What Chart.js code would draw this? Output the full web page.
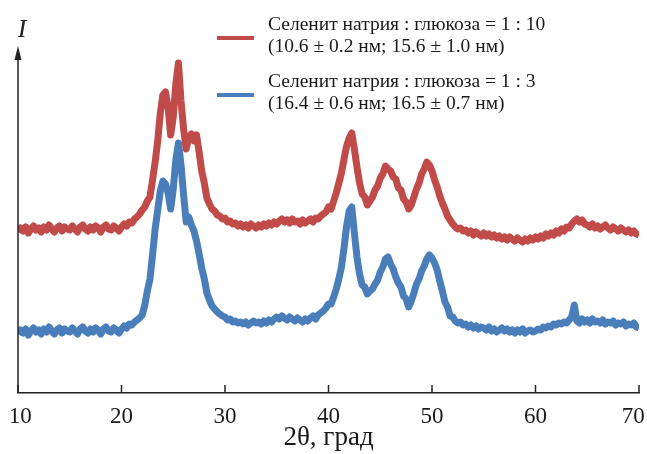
<!DOCTYPE html>
<html lang="ru">

<head>
    <meta charset="UTF-8">
    <title>XRD</title>
    <script src="https://cdn.jsdelivr.net/npm/chart.js"></script>
    <style>
        html, body { margin: 0; padding: 0; background: #fff; overflow: hidden; }
        #canvas { display: block; }
    </style>
</head>

<body>
    <canvas id="canvas" width="647" height="454"></canvas>

    <script>
        // 2θ grid: 10..70 deg, step 0.25
        const angleStart = 10
        const angleStep = 0.25
        const xTicks = [10, 20, 30, 40, 50, 60, 70]

        const redLabel = ['Селенит натрия : глюкоза = 1 : 10', '(10.6 ± 0.2 нм; 15.6 ± 1.0 нм)']
        const blueLabel = ['Селенит натрия : глюкоза = 1 : 3', '(16.4 ± 0.6 нм; 16.5 ± 0.7 нм)']

        // intensity, arbitrary units (curves shifted as in the picture)
        const redIntensity = [
            161, 165, 162, 166, 160, 164, 167, 163, 165, 161, 166, 163, 168, 164, 161, 165, 167, 162, 166, 164,
            163, 167, 164, 161, 166, 168, 164, 162, 166, 163, 167, 165, 161, 166, 168, 164, 163, 167, 165, 162,
            166, 169, 167, 171, 170, 174, 176, 179, 183, 186, 192, 196, 213, 231, 252, 280, 298, 301, 286, 258,
            276, 309, 330, 292, 264, 244, 255, 259, 252, 258, 241, 222, 210, 195, 189, 184, 182, 178, 177, 174,
            175, 171, 172, 169, 170, 167, 169, 166, 168, 165, 169, 167, 165, 168, 166, 169, 167, 170, 168, 171,
            169, 172, 174, 171, 173, 170, 174, 171, 172, 169, 173, 170, 172, 174, 171, 175, 174, 177, 179, 181,
            186, 184, 192, 200, 210, 220, 234, 247, 255, 260, 244, 226, 210, 199, 196, 188, 192, 196, 203, 207,
            215, 219, 227, 224, 222, 216, 214, 205, 203, 194, 191, 184, 188, 196, 204, 210, 219, 224, 231, 228,
            222, 213, 206, 197, 190, 184, 177, 173, 169, 166, 164, 165, 162, 163, 160, 162, 158, 161, 159, 157,
            160, 157, 159, 156, 158, 155, 157, 154, 156, 153, 156, 154, 152, 155, 153, 151, 154, 152, 155, 153,
            156, 154, 157, 155, 159, 157, 160, 158, 162, 160, 164, 162, 166, 165, 169, 172, 174, 171, 173, 169,
            168, 166, 169, 165, 167, 164, 166, 168, 165, 163, 166, 164, 162, 165, 163, 161, 163, 160, 162, 159,
            158
        ]

        const blueIntensity = [
            59, 63, 60, 64, 58, 62, 65, 61, 63, 59, 64, 61, 66, 62, 59, 63, 65, 60, 64, 62,
            61, 65, 62, 59, 64, 66, 62, 60, 64, 61, 65, 63, 59, 64, 66, 62, 61, 65, 63, 60,
            64, 67, 65, 69, 68, 71, 73, 75, 78, 88, 102, 114, 138, 164, 183, 202, 212, 209, 200, 184,
            204, 233, 250, 228, 198, 171, 176, 168, 162, 152, 139, 125, 114, 100, 93, 87, 84, 81, 79, 77,
            76, 73, 74, 71, 72, 70, 71, 69, 71, 68, 70, 72, 70, 71, 69, 72, 70, 73, 71, 74,
            76, 74, 77, 75, 73, 76, 74, 72, 75, 73, 71, 74, 72, 75, 77, 74, 78, 80, 82, 85,
            89, 89, 96, 104, 114, 126, 145, 167, 182, 186, 160, 136, 119, 108, 106, 99, 102, 104, 109, 113,
            121, 126, 134, 136, 129, 124, 116, 110, 106, 97, 94, 86, 92, 100, 109, 114, 122, 127, 134, 138,
            135, 130, 123, 112, 102, 91, 86, 77, 76, 72, 70, 71, 68, 69, 66, 68, 65, 67, 64, 66,
            65, 63, 66, 62, 64, 61, 63, 65, 62, 64, 61, 63, 60, 63, 61, 64, 60, 62, 63, 61,
            62, 64, 63, 66, 65, 67, 66, 69, 68, 70, 69, 71, 70, 73, 76, 88, 72, 70, 74, 71,
            73, 70, 74, 71, 72, 70, 73, 69, 71, 70, 72, 68, 70, 69, 71, 67, 69, 68, 70, 66,
            65
        ]

        const redColor = '#c04b48'
        const blueColor = '#4a7ebb'
        const serif = '"Liberation Serif", "Times New Roman", serif'

        function puntos(valores) {
            return valores.map((v, i) => ({ x: angleStart + i * angleStep, y: v }))
        }

        const decoracion = {
            id: 'decoracion',
            afterDraw(chart) {
                const c = chart.ctx
                const area = chart.chartArea
                const xs = chart.scales.x
                c.save()
                c.strokeStyle = '#222'
                c.fillStyle = '#222'
                c.lineWidth = 1.5

                // inner tick marks
                xTicks.forEach(t => {
                    const px = xs.getPixelForValue(t)
                    c.beginPath()
                    c.moveTo(px, area.bottom)
                    c.lineTo(px, area.bottom - 8)
                    c.stroke()
                })

                // y axis with arrow
                c.beginPath()
                c.moveTo(area.left, area.bottom)
                c.lineTo(area.left, area.top + 6)
                c.stroke()
                c.beginPath()
                c.moveTo(area.left, area.top - 2)
                c.lineTo(area.left - 3.5, area.top + 12)
                c.lineTo(area.left + 3.5, area.top + 12)
                c.closePath()
                c.fill()

                c.font = 'italic 26px ' + serif
                c.textAlign = 'center'
                c.textBaseline = 'middle'
                c.fillText('I', area.left + 4, 30)

                // legend
                const filas = [
                    { color: redColor, texto: chart.data.datasets[0].label, y: 38 },
                    { color: blueColor, texto: chart.data.datasets[1].label, y: 95 }
                ]
                c.font = '19.5px ' + serif
                c.textAlign = 'left'
                filas.forEach(f => {
                    c.strokeStyle = f.color
                    c.lineWidth = 4
                    c.beginPath()
                    c.moveTo(217, f.y)
                    c.lineTo(254, f.y)
                    c.stroke()
                    c.fillStyle = '#1a1a1a'
                    c.fillText(f.texto[0], 268, f.y - 13)
                    c.fillText(f.texto[1], 268, f.y + 9)
                })
                c.restore()
            }
        }

        const ctx = document.getElementById('canvas')
        const graph = new Chart(ctx, {
            type: 'line',
            data: {
                datasets: [{
                    label: redLabel,
                    data: puntos(redIntensity),
                    borderColor: redColor,
                    borderWidth: 7,
                    borderJoinStyle: 'round',
                    pointRadius: 0,
                    tension: 0
                }, {
                    label: blueLabel,
                    data: puntos(blueIntensity),
                    borderColor: blueColor,
                    borderWidth: 7,
                    borderJoinStyle: 'round',
                    pointRadius: 0,
                    tension: 0
                }]
            },
            options: {
                responsive: false,
                animation: false,
                layout: {
                    autoPadding: false,
                    padding: { left: 18, right: 8, top: 48, bottom: 0 }
                },
                plugins: {
                    legend: { display: false },
                    tooltip: { enabled: false }
                },
                scales: {
                    x: {
                        type: 'linear',
                        min: 10,
                        max: 70,
                        afterBuildTicks(scale) {
                            scale.ticks = xTicks.map(v => ({ value: v }))
                        },
                        afterFit(scale) {
                            scale.height = 61
                            scale.paddingLeft = 0
                            scale.paddingRight = 0
                        },
                        grid: { display: false, drawTicks: false },
                        border: { display: true, color: '#222', width: 1.5 },
                        ticks: {
                            padding: 10,
                            maxRotation: 0,
                            color: '#1a1a1a',
                            font: { family: serif, size: 23 },
                            // keep the last label inside the canvas
                            callback: (v) => v === 70 ? '70\u2002' : v === 10 ? '\u200910' : String(v)
                        },
                        title: {
                            display: true,
                            text: '2θ, град',
                            color: '#1a1a1a',
                            font: { family: serif, size: 27 },
                            padding: { top: 0, bottom: 0 }
                        }
                    },
                    y: {
                        display: false,
                        min: 0,
                        max: 345
                    }
                }
            },
            plugins: [decoracion]
        })
    </script>

</body>

</html>
